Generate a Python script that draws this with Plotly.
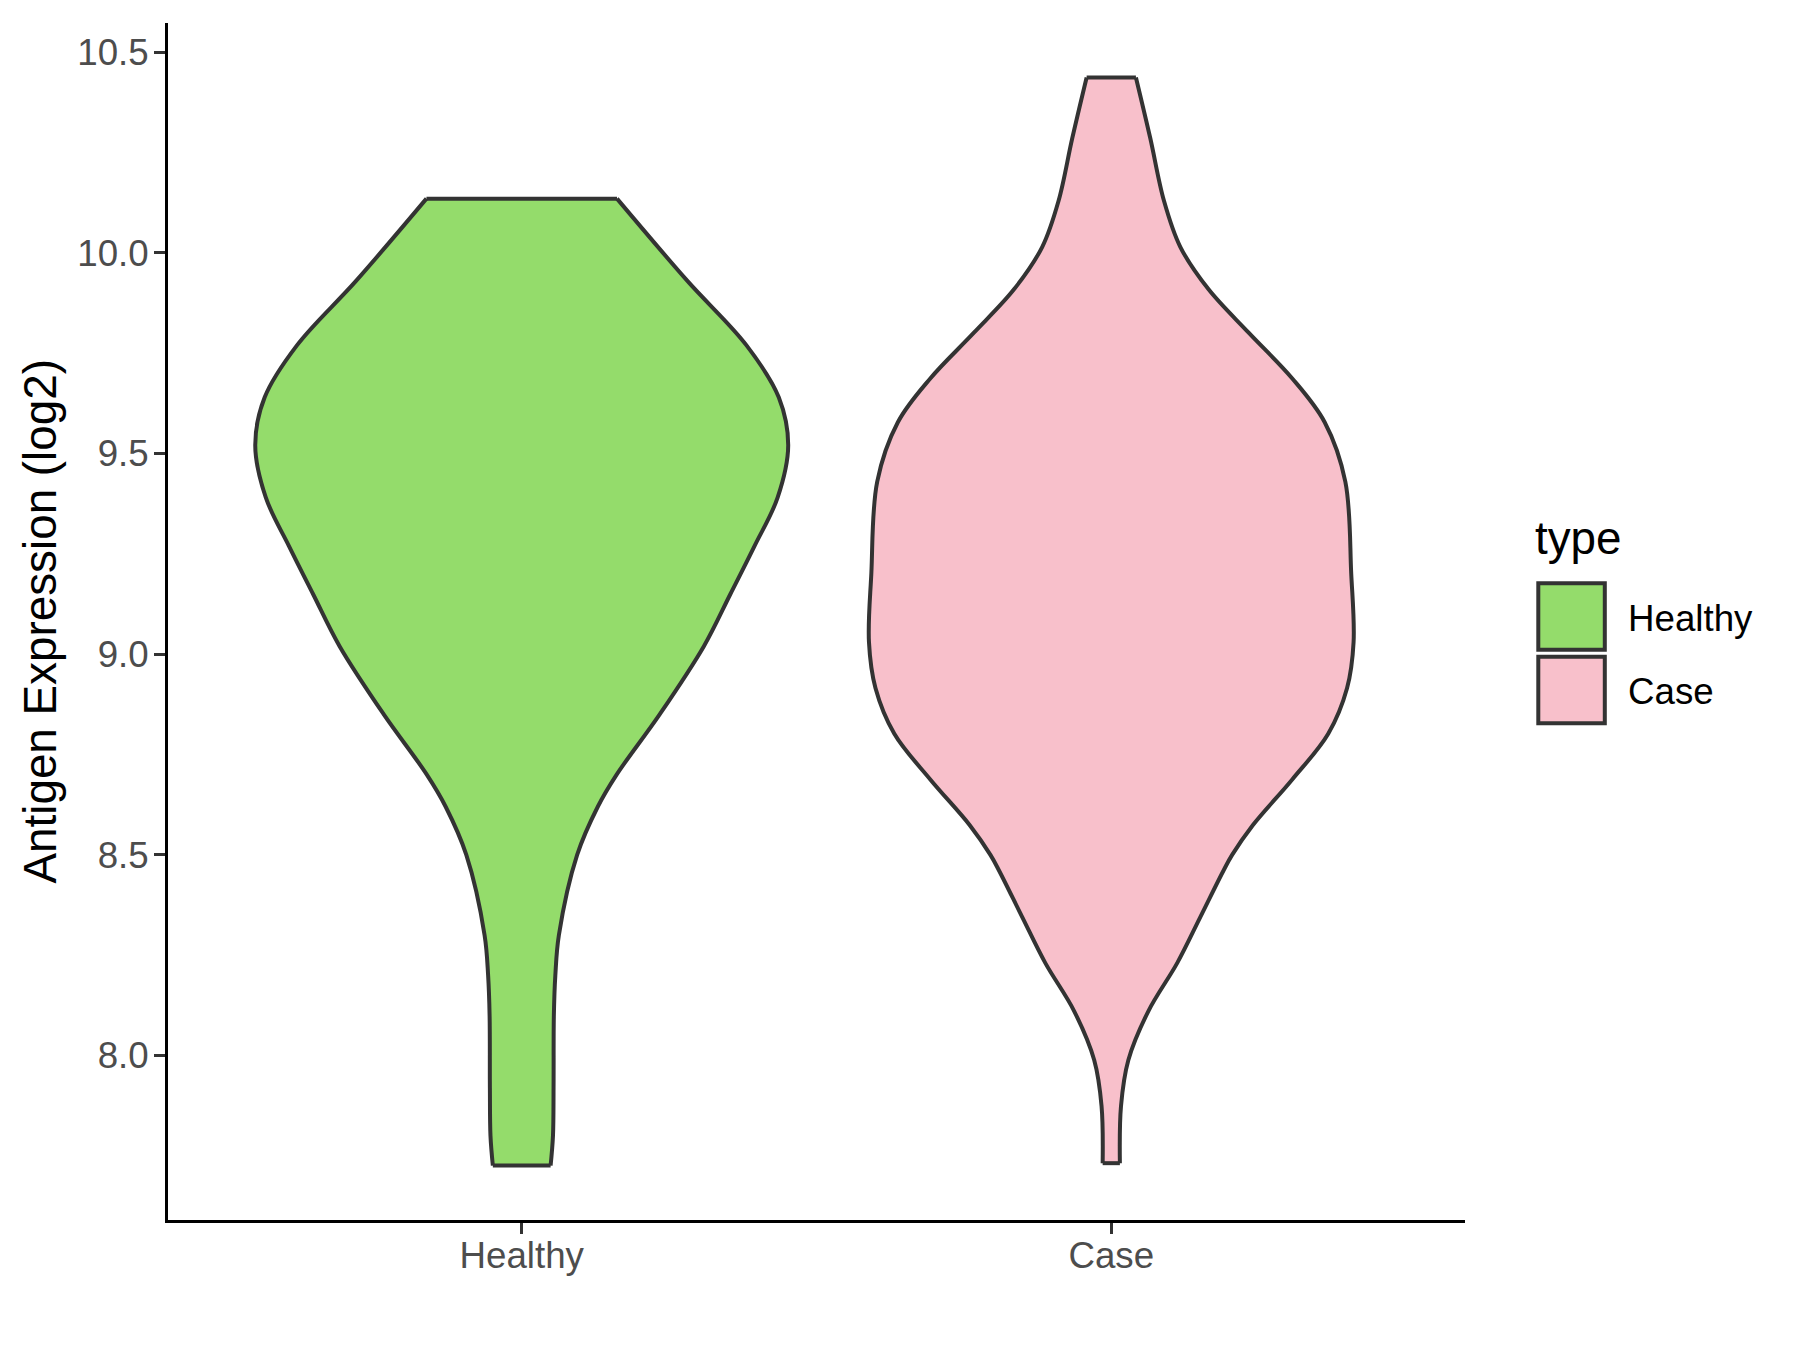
import plotly.graph_objects as go

# ---------------- data ----------------
categories = ["Healthy", "Case"]
legend_title = "type"
y_title = "Antigen Expression (log2)"
y_ticks = [8.0, 8.5, 9.0, 9.5, 10.0, 10.5]

# violin outline: expression level and half-width (in category units)
healthy_y = [7.726, 7.80, 7.92, 8.10, 8.20, 8.30, 8.50, 8.62, 8.70, 8.85,
             9.02, 9.15, 9.27, 9.39, 9.52, 9.64, 9.77, 9.93, 10.135]
healthy_hw = [0.049, 0.053, 0.054, 0.0545, 0.057, 0.063, 0.094, 0.129, 0.161, 0.234,
              0.309, 0.354, 0.395, 0.434, 0.452, 0.436, 0.381, 0.281, 0.1616]

case_y = [7.732, 7.874, 7.989, 8.111, 8.231, 8.345, 8.46, 8.50, 8.574, 8.688, 8.802,
          8.916, 9.030, 9.201, 9.430, 9.578, 9.687, 9.801, 9.909, 10.015, 10.129,
          10.286, 10.437]
case_hw = [0.0146, 0.0165, 0.029, 0.063, 0.112, 0.151, 0.190, 0.205, 0.240, 0.307, 0.368,
           0.400, 0.411, 0.407, 0.397, 0.362, 0.307, 0.233, 0.165, 0.117, 0.0895,
           0.0661, 0.0418]

# ---------------- styles / layout ----------------
fill_colors = ["#94DC6B", "#F8C0CB"]
outline = "#333333"
FONT = "Liberation Sans, Arial, sans-serif"
OFF = 8                       # page body margin
W, H = 1800 - 2 * OFF, 1350 - 2 * OFF
ML, MT = 160, 15
PW, PH = 1297, 1197
MR, MB = W - ML - PW, H - MT - PH


def px_x(page_x):
    return (page_x - OFF - ML) / PW


def px_y(page_y):
    return (MT + PH - (page_y - OFF)) / PH


series = [(healthy_y, healthy_hw), (case_y, case_hw)]
LW = 4

fig = go.Figure()
for i, (ys, hws) in enumerate(series):
    left = [i - w for w in hws]
    right = [i + w for w in hws]
    fig.add_trace(go.Scatter(x=left, y=ys, mode="lines",
                             line=dict(shape="spline", color=outline, width=LW),
                             hoverinfo="skip", showlegend=False))
    fig.add_trace(go.Scatter(x=right, y=ys, mode="lines",
                             line=dict(shape="spline", color=outline, width=LW),
                             fill="tonextx", fillcolor=fill_colors[i],
                             hoverinfo="skip", showlegend=False))
    fig.add_trace(go.Scatter(x=[left[0], right[0], None, left[-1], right[-1]],
                             y=[ys[0], ys[0], None, ys[-1], ys[-1]], mode="lines",
                             line=dict(color=outline, width=LW),
                             hoverinfo="skip", showlegend=False))

all_y = healthy_y + case_y
lo, hi = min(all_y), max(all_y)
pad = 0.05 * (hi - lo)

axis_common = dict(showline=True, linecolor="black", linewidth=3, mirror=False,
                   ticks="outside", ticklen=11, tickwidth=3, tickcolor=outline,
                   showgrid=False, zeroline=False,
                   tickfont=dict(family=FONT, size=36.7, color="#4D4D4D"))

fig.update_layout(
    width=W, height=H,
    margin=dict(l=ML, r=MR, t=MT, b=MB),
    paper_bgcolor="white", plot_bgcolor="white",
    showlegend=False,
    xaxis=dict(range=[-0.6, 1.6], tickvals=list(range(len(categories))),
               ticktext=categories, ticklabelstandoff=-10, **axis_common),
    yaxis=dict(range=[lo - pad, hi + pad], tickvals=y_ticks, tickformat=".1f",
               ticklabelstandoff=-2, **axis_common),
)

# y-axis title
fig.add_annotation(text=y_title, textangle=-90, xref="paper", yref="paper",
                   x=px_x(40), y=0.5, xanchor="center", yanchor="middle",
                   showarrow=False, font=dict(family=FONT, size=45.8, color="black"))

# manual legend (ggplot style)
fig.add_annotation(text=legend_title, xref="paper", yref="paper",
                   x=px_x(1533), y=px_y(538), xanchor="left", yanchor="middle",
                   showarrow=False, font=dict(family=FONT, size=45.8, color="black"))
key_tops = [583.2, 656.7]
key_size = 66.5
for i, name in enumerate(categories):
    t = key_tops[i]
    fig.add_shape(type="rect", xref="paper", yref="paper",
                  x0=px_x(1538.3), x1=px_x(1538.3 + key_size),
                  y0=px_y(t + key_size), y1=px_y(t),
                  fillcolor=fill_colors[i], line=dict(color=outline, width=LW))
    fig.add_annotation(text=name, xref="paper", yref="paper",
                       x=px_x(1626), y=px_y(t + key_size / 2 + 2), xanchor="left",
                       yanchor="middle", showarrow=False,
                       font=dict(family=FONT, size=36.7, color="black"))

fig.write_html("out.html")
